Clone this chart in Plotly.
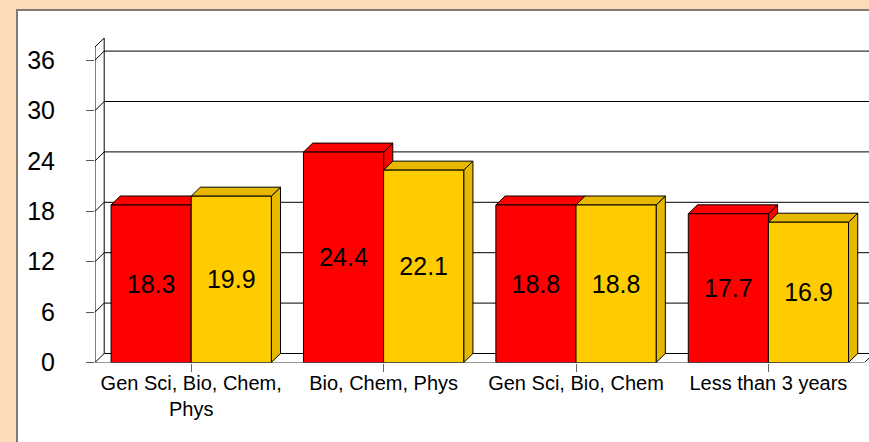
import plotly.graph_objects as go

W, H = 869, 442
categories = ["Gen Sci, Bio, Chem,<br>Phys", "Bio, Chem, Phys", "Gen Sci, Bio, Chem", "Less than 3 years"]
red_heights = [18.75, 25.05, 18.75, 17.7]
gold_heights = [19.8, 22.9, 18.75, 16.7]
red_labels = ["18.3", "24.4", "18.8", "17.7"]
gold_labels = ["19.9", "22.1", "18.8", "16.9"]
y_ticks = [0, 6, 12, 18, 24, 30, 36]

RED, GOLD, GOLD_DK = "#FF0000", "#FFCC00", "#E6B800"
PEACH = "#FFDCB9"
FONT = "Liberation Sans"

# plot geometry (pixels)
PX_LEFT, PX_BOTTOM, PX_TOP = 95.0, 362.5, 38.0
PX_PER_CAT, PX_PER_UNIT = 192.4, 8.4
DEPTH_X, DEPTH_Y = 9.2 / PX_PER_CAT, 9.0 / PX_PER_UNIT
GAP = 0.167
BW = (1 - GAP) / 2
x_range = [-0.5, -0.5 + (W - PX_LEFT) / PX_PER_CAT]
y_range = [0, (PX_BOTTOM - PX_TOP) / PX_PER_UNIT]
y_axis_top = y_range[1] - DEPTH_Y
x_right = 3.5

fig = go.Figure()


def line_trace(xs, ys, color="#000000", width=1):
    fig.add_trace(go.Scatter(x=xs, y=ys, mode="lines", line=dict(color=color, width=width),
                             hoverinfo="skip", showlegend=False, cliponaxis=False))


# walls
gx, gy = [], []
for v in y_ticks:
    gx += [-0.5, -0.5 + DEPTH_X, x_right + DEPTH_X, None]
    gy += [v, v + DEPTH_Y, v + DEPTH_Y, None]
line_trace(gx, gy)
line_trace([-0.5, -0.5 + DEPTH_X, -0.5 + DEPTH_X], [y_axis_top, y_range[1], DEPTH_Y])
line_trace([-0.5, -0.5], [0, y_axis_top])
line_trace([x_right, x_right + DEPTH_X], [0, DEPTH_Y])


def face(xs, ys, color):
    fig.add_trace(go.Scatter(x=xs, y=ys, mode="lines", fill="toself", fillcolor=color,
                             line=dict(color="#000000", width=1), hoverinfo="skip", showlegend=False))


for i in range(len(categories)):
    for vals, off, top_col, side_col in ((red_heights, -BW, RED, RED), (gold_heights, 0, GOLD_DK, GOLD_DK)):
        v = vals[i]
        l, r = i + off, i + off + BW
        face([r, r + DEPTH_X, r + DEPTH_X, r, r], [v, v + DEPTH_Y, DEPTH_Y, 0, v], side_col)
        face([l, l + DEPTH_X, r + DEPTH_X, r, l], [v, v + DEPTH_Y, v + DEPTH_Y, v, v], top_col)

xpos = list(range(len(categories)))
for name, vals, labels, col in (("Red", red_heights, red_labels, RED), ("Gold", gold_heights, gold_labels, GOLD)):
    fig.add_trace(go.Bar(x=xpos, y=vals, name=name, text=labels, textposition="inside",
                         insidetextanchor="middle", textangle=0, constraintext="none",
                         textfont=dict(family=FONT, size=25, color="#000000"),
                         marker=dict(color=col, line=dict(color="#000000", width=1)),
                         xaxis="x2", yaxis="y2", hoverinfo="skip", showlegend=False))

dom_x = [PX_LEFT / W, 1]
dom_y = [(H - PX_BOTTOM) / H, (H - PX_TOP) / H]
fig.update_layout(
    width=W, height=H, margin=dict(l=0, r=0, t=0, b=0, autoexpand=False),
    paper_bgcolor=PEACH, plot_bgcolor="rgba(0,0,0,0)",
    barmode="group", bargap=GAP, bargroupgap=0,
    font=dict(family=FONT, color="#000000"),
    shapes=[dict(type="rect", xref="paper", yref="paper", layer="below",
                 x0=17 / W, x1=1.02, y0=-0.02, y1=(H - 10) / H,
                 fillcolor="#FFFFFF", line=dict(color="#7F7A72", width=2))],
    xaxis=dict(domain=dom_x, range=x_range, tickvals=xpos, ticktext=categories, showgrid=False, zeroline=False,
               showline=False, ticks="outside", ticklen=8, tickcolor="#666666", tickwidth=1, ticklabelstandoff=-6,
               tickfont=dict(size=20, family=FONT, color="#000000")),
    yaxis=dict(domain=dom_y, range=y_range, tickvals=y_ticks, showgrid=False, zeroline=False, showline=False,
               ticks="outside", ticklen=8, tickcolor="#555555", tickwidth=1, ticklabelstandoff=26,
               tickfont=dict(size=25, family=FONT, color="#000000")),
    xaxis2=dict(domain=dom_x, range=x_range, overlaying="x", visible=False),
    yaxis2=dict(domain=dom_y, range=y_range, overlaying="y", visible=False),
)
# floor front edge
line_trace([-0.5, x_right], [0, 0], color="#333333")
fig.write_html("out.html", config=dict(displayModeBar=False),
               post_script="document.body.style.margin='0';document.documentElement.style.overflow='hidden';")
